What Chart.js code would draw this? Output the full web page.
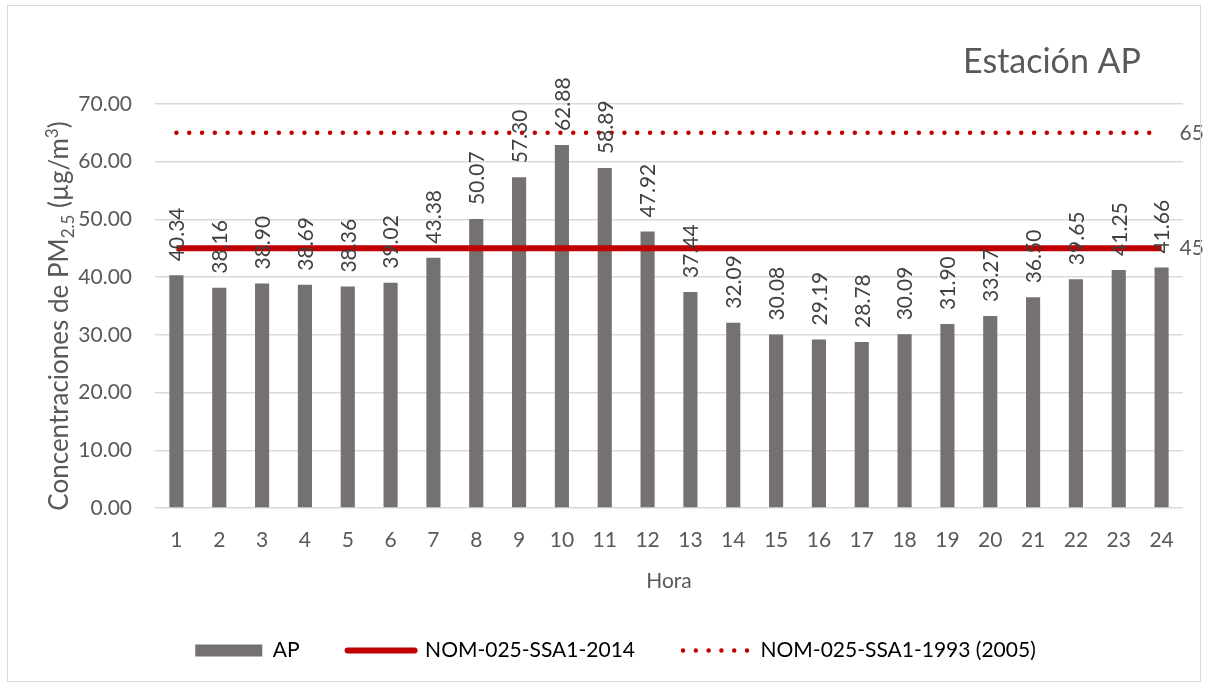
<!DOCTYPE html>
<html>
<head>
<meta charset="utf-8">
<script src="https://cdn.jsdelivr.net/npm/chart.js@4.4.1/dist/chart.umd.min.js"></script>
<style>
  html, body { margin: 0; padding: 0; background: #fff; }
  #wrap { position: absolute; left: 0; top: 0; width: 1208px; height: 686px; }
  #frame { position: absolute; left: 7px; top: 5px; width: 1192px; height: 675px; border: 1px solid #d9d9d9; pointer-events: none; }
</style>
</head>
<body>
<div id="wrap">
  <canvas id="chart" width="1208" height="686"></canvas>
  <div id="frame"></div>
</div>
<script>
const horas = ["1", "2", "3", "4", "5", "6", "7", "8", "9", "10", "11", "12", "13", "14", "15", "16", "17", "18", "19", "20", "21", "22", "23", "24"];
const ap = [40.34, 38.16, 38.90, 38.69, 38.36, 39.02, 43.38, 50.07, 57.30, 62.88, 58.89, 47.92, 37.44, 32.09, 30.08, 29.19, 28.78, 30.09, 31.90, 33.27, 36.50, 39.65, 41.25, 41.66];
const nom2014 = [45, 45, 45, 45, 45, 45, 45, 45, 45, 45, 45, 45, 45, 45, 45, 45, 45, 45, 45, 45, 45, 45, 45, 45];
const nom1993 = [65, 65, 65, 65, 65, 65, 65, 65, 65, 65, 65, 65, 65, 65, 65, 65, 65, 65, 65, 65, 65, 65, 65, 65];
const yTicks = [0, 10, 20, 30, 40, 50, 60, 70];

const C = { bar: "#767171", red: "#C00000", text: "#595959", label: "#404040", grid: "#d9d9d9" };
const FONT = "Lato";

// labels on bars, end labels of the norm lines, y title with sub/superscript, station title
const extras = {
  id: "extras",
  afterDatasetsDraw(chart) {
    const ctx = chart.ctx;
    ctx.save();
    ctx.font = `21px ${FONT}`;
    ctx.fillStyle = C.label;
    ctx.textAlign = "left"; ctx.textBaseline = "middle";
    chart.getDatasetMeta(0).data.forEach((b, i) => {
      ctx.save();
      ctx.translate(b.x + 1, b.y - 14);
      ctx.rotate(-Math.PI / 2);
      ctx.fillText(ap[i].toFixed(2), 0, 0);
      ctx.restore();
    });
    ctx.fillStyle = C.text;
    [1, 2].forEach(di => {
      const pts = chart.getDatasetMeta(di).data, p = pts[pts.length - 1];
      const v = chart.data.datasets[di].data;
      ctx.fillText(String(v[v.length - 1]), p.x + 18, p.y);
    });
    ctx.restore();
  },
  afterDraw(chart) {
    const ctx = chart.ctx, a = chart.chartArea;
    ctx.save();
    ctx.fillStyle = C.text;
    ctx.textBaseline = "alphabetic";
    // y axis title
    const big = `26px ${FONT}`, small = `17px ${FONT}`;
    const parts = [["Concentraciones de PM", big, 0], ["2.5", small, 6], [" (µg/m", big, 0], ["3", small, -10], [")", big, 0]];
    let total = 0;
    parts.forEach(p => { ctx.font = p[1]; total += ctx.measureText(p[0]).width; });
    ctx.translate(58, (a.top + a.bottom) / 2 + 10);
    ctx.rotate(-Math.PI / 2);
    let x = -total / 2;
    parts.forEach(p => { ctx.font = p[1]; ctx.fillText(p[0], x, 10 + p[2]); x += ctx.measureText(p[0]).width; });
    ctx.restore();
    // station title
    ctx.save();
    ctx.fillStyle = C.text;
    ctx.font = `34px ${FONT}`;
    ctx.textAlign = "right"; ctx.textBaseline = "alphabetic";
    ctx.fillText("Estación AP", 1141, 73);
    ctx.restore();
  }
};

new Chart(document.getElementById("chart"), {
  data: {
    labels: horas,
    datasets: [
      { type: "bar", label: "AP", data: ap, backgroundColor: C.bar, barPercentage: 0.33, categoryPercentage: 1, order: 3 },
      { type: "line", label: "NOM-025-SSA1-2014", data: nom2014, borderColor: C.red, borderWidth: 6, pointRadius: 0, order: 2 },
      { type: "line", label: "NOM-025-SSA1-1993 (2005)", data: nom1993, borderColor: C.red, borderWidth: 4.5, borderDash: [0, 12.8], borderCapStyle: "round", pointRadius: 0, order: 1 }
    ]
  },
  options: {
    responsive: false, animation: false,
    layout: { padding: { top: 104, right: 25, left: 48, bottom: 15 } },
    plugins: {
      tooltip: { enabled: false },
      legend: {
        position: "bottom",
        labels: {
          usePointStyle: true, pointStyleWidth: 67, boxHeight: 12, padding: 48,
          color: C.text, font: { family: FONT, size: 21 },
          generateLabels: () => [
            { text: "AP", fillStyle: C.bar, strokeStyle: C.bar, lineWidth: 0, pointStyle: "rect", datasetIndex: 0 },
            { text: "NOM-025-SSA1-2014", fillStyle: C.red, strokeStyle: C.red, lineWidth: 6, lineCap: "round", pointStyle: "line", datasetIndex: 1 },
            { text: "NOM-025-SSA1-1993 (2005)", fillStyle: C.red, strokeStyle: C.red, lineWidth: 4.5, lineDash: [0, 12.8], lineCap: "round", pointStyle: "line", datasetIndex: 2 }
          ]
        }
      }
    },
    scales: {
      x: {
        grid: { display: false },
        border: { display: false },
        ticks: { color: C.text, font: { family: FONT, size: 21, lineHeight: 1 }, padding: 14, maxRotation: 0, autoSkip: false },
        title: { display: true, text: "Hora", color: C.text, font: { family: FONT, size: 21, lineHeight: 1 }, padding: { top: 6, bottom: 0 } }
      },
      y: {
        min: 0, max: 70,
        afterFit: s => { s.width = 107; },
        afterBuildTicks: s => { s.ticks = yTicks.map(v => ({ value: v })); },
        grid: { color: C.grid, lineWidth: 1.5, drawTicks: false },
        border: { display: false },
        ticks: { color: C.text, font: { family: FONT, size: 21 }, padding: 23, callback: v => v.toFixed(2) }
      }
    }
  },
  plugins: [extras]
});
</script>
</body>
</html>
